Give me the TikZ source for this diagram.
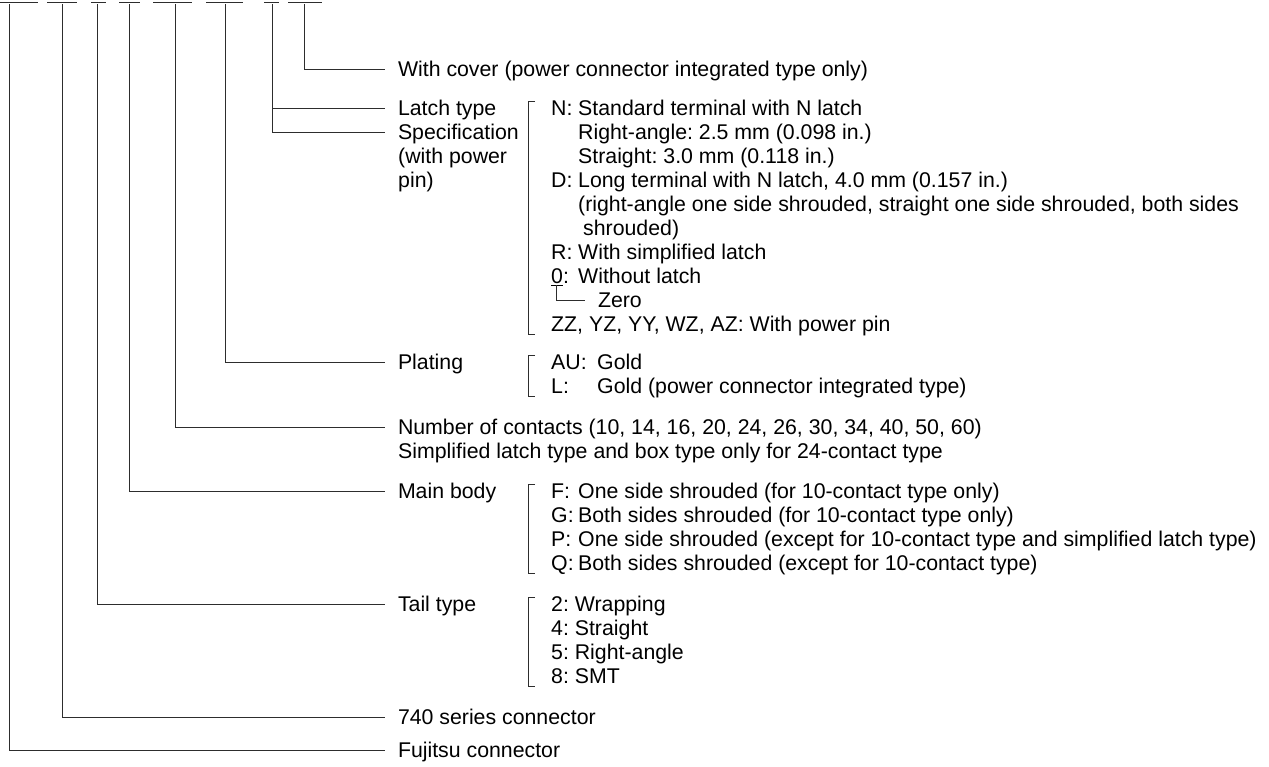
\documentclass[tikz,border=0pt]{standalone}
\usepackage{fontspec}
\setmainfont{Liberation Sans}
\frenchspacing
\definecolor{leadgray}{RGB}{45, 45, 45}
\tikzset{
  lead/.style={draw=leadgray, line width=1pt},
  brace/.style={draw=leadgray, line width=0.8pt},
  lbl/.style={anchor=west, inner sep=0pt, outer xsep=13pt, text height=15pt, text depth=0pt},
  item/.style={anchor=west, inner sep=0pt, text height=15pt, text depth=0pt},
}
\newcommand{\keybox}[2][27pt]{\makebox[#1][l]{#2}}

\begin{document}
\begin{tikzpicture}[x=1pt, y=-1pt, font=\fontsize{21.3}{24}\selectfont]
    \useasboundingbox (0,0) rectangle (1269,766);

    % underlines of the part number
    \draw[lead] (0,2.5) -- (38,2.5);
    \draw[lead] (47,2.5) -- (77,2.5);
    \draw[lead] (91,2.5) -- (106,2.5);
    \draw[lead] (119,2.5) -- (140,2.5);
    \draw[lead] (153,2.5) -- (192,2.5);
    \draw[lead] (206,2.5) -- (243,2.5);
    \draw[lead] (264,2.5) -- (279,2.5);
    \draw[lead] (288,2.5) -- (322,2.5);
    \coordinate (p1) at (9.5,4);
    \coordinate (p2) at (62,4);
    \coordinate (p3) at (97,4);
    \coordinate (p4) at (129,4);
    \coordinate (p5) at (175,4);
    \coordinate (p6) at (225,4);
    \coordinate (p7) at (272,4);
    \coordinate (p8) at (304,4);

    % labels
    \node[lbl] (cover) at (385,69) {With cover (power connector integrated type only)};
    \node[lbl] (latch) at (385,108) {Latch type};
    \node[lbl] (spec) at (385,132) {Specification};
    \node[item] (pw1) at (398,156) {(with power};
    \node[item] (pw2) at (398,180) {pin)};
    \node[lbl] (plat) at (385,362) {Plating};
    \node[lbl] (cnt) at (385,427) {Number of contacts (10, 14, 16, 20, 24, 26, 30, 34, 40, 50, 60)};
    \node[item] (cnt2) at (398,451) {Simplified latch type and box type only for 24-contact type};
    \node[lbl] (body) at (385,491) {Main body};
    \node[lbl] (tail) at (385,604) {Tail type};
    \node[lbl] (ser) at (385,717) {740 series connector};
    \node[lbl] (fuj) at (385,750) {Fujitsu connector};

    % leaders
    \draw[lead] (p8) |- (cover.west);
    \draw[lead] (p7) |- (spec.west);
    \draw[lead] (p7 |- latch.west) -- (latch.west);
    \draw[lead] (p6) |- (plat.west);
    \draw[lead] (p5) |- (cnt.west);
    \draw[lead] (p4) |- (body.west);
    \draw[lead] (p3) |- (tail.west);
    \draw[lead] (p2) |- (ser.west);
    \draw[lead] (p1) |- (fuj.west);

    % latch type list
    \draw[brace] (535,101) -| (528,334) -- (535,334);
    \node[item] (n1) at (551,108) {\keybox{N:}Standard terminal with N latch};
    \node[item] (n2) at (578,132) {Right-angle: 2.5 mm (0.098 in.)};
    \node[item] (n3) at (578,156) {Straight: 3.0 mm (0.118 in.)};
    \node[item] (n4) at (551,180) {\keybox{D:}Long terminal with N latch, 4.0 mm (0.157 in.)};
    \node[item] (n5) at (578,204) {(right-angle one side shrouded, straight one side shrouded, both sides};
    \node[item] (n6) at (583,228) {shrouded)};
    \node[item] (n7) at (551,252) {\keybox{R:}With simplified latch};
    \node[item] (n8) at (551,276) {\keybox{\underline{0}:}Without latch};
    \coordinate (zr) at (556.5,285);
    \node[lbl] (zero) at (585,300) {Zero};
    \draw[brace] (zr) |- (zero.west);
    \node[item] (n9) at (551,324) {ZZ, YZ, YY, WZ, AZ: With power pin};

    % plating list
    \draw[brace] (535,355) -| (528,396) -- (535,396);
    \node[item] (au) at (551,362) {\keybox[46pt]{AU:}Gold};
    \node[item] (lg) at (551,386) {\keybox[46pt]{L:}Gold (power connector integrated type)};

    % main body list
    \draw[brace] (535,484) -| (528,573) -- (535,573);
    \node[item] (bf) at (551,491) {\keybox{F:}One side shrouded (for 10-contact type only)};
    \node[item] (bg) at (551,515) {\keybox{G:}Both sides shrouded (for 10-contact type only)};
    \node[item] (bp) at (551,539) {\keybox{P:}One side shrouded (except for 10-contact type and simplified latch type)};
    \node[item] (bq) at (551,563) {\keybox{Q:}Both sides shrouded (except for 10-contact type)};

    % tail type list
    \draw[brace] (535,597) -| (528,686) -- (535,686);
    \node[item] (t2) at (551,604) {2: Wrapping};
    \node[item] (t4) at (551,628) {4: Straight};
    \node[item] (t5) at (551,652) {5: Right-angle};
    \node[item] (t8) at (551,676) {8: SMT};
\end{tikzpicture}
\end{document}
